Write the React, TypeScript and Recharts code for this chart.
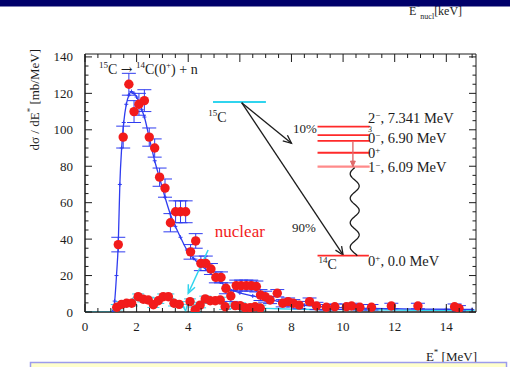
import React from 'react';
import {
  ComposedChart,
  Line,
  Scatter,
  XAxis,
  YAxis,
  ErrorBar,
  ReferenceLine,
  ReferenceDot,
  ReferenceArea,
} from 'recharts';

const SERIF = '"Liberation Serif", "Times New Roman", "DejaVu Serif", serif';
const INK = '#1c1c1c';
const RED = '#f21b1b';
const BLUE = '#2f3cf0';
const CYAN = '#30d4ee';

// ---- measured total cross section (E*, dσ/dE*, error)
const totalE = [
  1.29, 1.48, 1.7, 1.9, 2.09, 2.3, 2.49, 2.7, 2.89, 3.1, 3.31, 3.51, 3.7, 3.9, 4.09, 4.29, 4.49, 4.68,
  4.88, 5.07, 5.27, 5.46, 5.65, 5.86, 6.05, 6.25, 6.44, 6.64, 6.8, 6.98, 7.17, 7.45, 7.66, 7.87, 8.07,
  8.3, 8.7, 8.97, 9.35, 9.68, 10.13, 10.33, 10.65, 11.1, 11.87, 12.9, 14.32, 14.49,
];
const totalSigma = [
  37, 96, 125, 110, 114, 116, 96, 90, 74, 68, 49, 55, 55, 55, 33, 39, 26.7, 26.7,
  23.6, 19, 19, 13, 8.8, 14.5, 14.5, 14.5, 14.5, 14, 9.3, 8.4, 6.6, 10.3, 4.8, 5.7, 4.8,
  3.8, 5.7, 3.3, 2.6, 2.9, 2.9, 3.3, 2.6, 2.6, 3.3, 3.3, 2.9, 2.0,
];
const totalErr = [
  4, 6, 6, 6, 6, 6, 5, 5, 5, 5, 5, 6, 6, 6, 4, 4, 4, 4,
  3, 3, 3, 3, 3, 3, 3, 3, 3, 3, 3, 3, 2, 2, 2, 2, 2,
  2, 2, 2, 1.5, 1.5, 1.5, 1.5, 1.5, 1.5, 1.5, 1.5, 1.5, 1.5,
];

// ---- nuclear contribution
const nuclearE = [
  1.23, 1.42, 1.61, 1.81, 2.06, 2.26, 2.45, 2.65, 2.84, 3.03, 3.23, 3.45, 3.65, 4.07, 4.27, 4.46,
  4.66, 4.85, 5.05, 5.24, 5.43, 5.82, 6.01, 6.2, 6.4, 6.59, 6.79,
];
const nuclearSigma = [
  2.6, 4.2, 4.8, 4.8, 8.4, 7.0, 6.6, 4.0, 6.2, 8.4, 8.4, 4.8, 4.2, 5.7, 1.2, 3.8,
  7.2, 6.2, 6.2, 6.6, 2.9, 3.5, 3.5, 2.4, 2.4, 2.9, 2.2,
];
const nuclearErr = [
  1.5, 1.5, 1.5, 1.5, 1.5, 1.5, 1.5, 1.5, 1.5, 1.5, 1.5, 1.5, 1.5, 1.5, 1.5, 1.5,
  1.5, 1.5, 1.5, 1.5, 1.5, 1.5, 1.5, 1.5, 1.5, 1.5, 1.5,
];

// ---- fitted Coulomb-breakup curve
const fitE = [
  1.07, 1.15, 1.22, 1.29, 1.35, 1.42, 1.5, 1.6, 1.7, 1.8, 1.9, 2.0, 2.1, 2.2, 2.3, 2.5, 2.7, 2.9,
  3.1, 3.3, 3.5, 3.7, 3.95, 4.2, 4.5, 4.75, 5.0, 5.25, 5.5, 5.75, 6.0, 6.5, 7.0, 7.5, 8.0, 8.5,
  9.0, 10.0, 11.0, 12.0, 13.0, 14.0, 15.0,
];
const fitSigma = [
  0, 6, 20, 38, 70, 90, 104, 114, 119, 121, 120, 118, 115, 111, 107, 95, 83, 73,
  63, 54, 47, 41, 34, 29.5, 25.5, 22.7, 19.5, 16.5, 13.5, 11.8, 10.5, 8.8, 7.2, 5.8, 4.6, 3.7,
  3.1, 2.4, 2.0, 1.8, 1.6, 1.5, 1.4,
];

// ---- nuclear fit
const nucFitE = [
  0, 1.12, 1.15, 1.35, 1.55, 1.75, 1.95, 2.15, 2.35, 2.55, 2.75, 2.95, 3.15, 3.35, 3.55, 3.75, 3.9,
  4.0, 4.2, 4.4, 4.6, 4.8, 5.0, 5.2, 5.4, 5.6, 5.8, 6.2, 6.6, 7.0, 7.5, 8.0, 9.0, 10.0, 11.0, 12.0,
  13.0, 14.0, 15.1,
];
const nucFitSigma = [
  0, 0, 3.5, 4.5, 5.5, 6, 9, 9, 7.5, 6, 5.5, 7.5, 9.5, 8.5, 5.5, 4.5, 0.5,
  6, 2, 4.5, 7.5, 7, 6.5, 6.5, 3.5, 3, 3.5, 2.5, 2.2, 2, 1.8, 1.6, 1.4, 1.3, 1.2, 1.1,
  1, 1, 1,
];

const X_TICKS = [
  0, 0.5, 1, 1.5, 2, 2.5, 3, 3.5, 4, 4.5, 5, 5.5, 6, 6.5, 7, 7.5, 8, 8.5, 9, 9.5, 10, 10.5, 11,
  11.5, 12, 12.5, 13, 13.5, 14, 14.5, 15,
];
const Y_TICKS = [
  0, 5, 10, 15, 20, 25, 30, 35, 40, 45, 50, 55, 60, 65, 70, 75, 80, 85, 90, 95, 100, 105, 110, 115,
  120, 125, 130, 135, 140,
];

const zip3 = (xs: number[], ys: number[], es: number[]) =>
  xs.map((x, i) => ({ x, y: ys[i], err: es[i] }));
const zip2 = (xs: number[], ys: number[]) => xs.map((x, i) => ({ x, y: ys[i] }));

const totalData = zip3(totalE, totalSigma, totalErr);
const nuclearData = zip3(nuclearE, nuclearSigma, nuclearErr);
const fitData = zip2(fitE, fitSigma);
const nucFitData = zip2(nucFitE, nucFitSigma);

// ---- layout
const CHART_W = 510;
const CHART_H = 367;
const MARGIN = { top: 54, right: 34, bottom: 25, left: 0 };
const Y_AXIS_W = 85;
const X_AXIS_H = 30;
const PLOT_W = CHART_W - MARGIN.left - MARGIN.right - Y_AXIS_W;
const PLOT_H = CHART_H - MARGIN.top - MARGIN.bottom - X_AXIS_H;
const X_MAX = 15.15;
const Y_MAX = 141.6;

const serifStyle = { fontFamily: SERIF };
const symbolStyle = { fontFamily: '"DejaVu Serif", "DejaVu Sans", serif' };

// rich text: [text, 'sup' | 'sub' | 'sym' | undefined]
type Seg = [string, ('sup' | 'sub' | 'sym')?];
const rich = (segs: Seg[], size: number, small: number, shift: number) => {
  let level = 0;
  return segs.map(([t, kind], i) => {
    const target = kind === 'sup' ? -shift : kind === 'sub' ? shift * 0.7 : 0;
    const dy = target - level;
    level = target;
    const isSmall = kind === 'sup' || kind === 'sub';
    return (
      <tspan
        key={i}
        dy={dy}
        fontSize={isSmall ? small : size}
        style={kind === 'sym' ? symbolStyle : undefined}
      >
        {t}
      </tspan>
    );
  });
};

const XTick = (props: any) => {
  const { x, y, payload } = props;
  const v = payload.value as number;
  const major = Math.abs(v % 2) < 1e-9;
  const len = major ? 8 : 4;
  return (
    <g>
      <line x1={x} y1={y} x2={x} y2={y - len} stroke={INK} />
      <line x1={x} y1={y - PLOT_H} x2={x} y2={y - PLOT_H + len} stroke={INK} />
      {major && (
        <text x={x} y={y + 19} textAnchor="middle" style={serifStyle} fontSize={13} fill={INK}>
          {v}
        </text>
      )}
    </g>
  );
};

const YTick = (props: any) => {
  const { x, y, payload } = props;
  const v = payload.value as number;
  const major = Math.abs(v % 20) < 1e-9;
  const len = major ? 7 : 3.5;
  return (
    <g>
      <line x1={x} y1={y} x2={x + len} y2={y} stroke={INK} />
      <line x1={x + PLOT_W} y1={y} x2={x + PLOT_W - len} y2={y} stroke={INK} />
      {major && (
        <text x={x - 12} y={y + 4.5} textAnchor="end" style={serifStyle} fontSize={13} fill={INK}>
          {v}
        </text>
      )}
    </g>
  );
};

const redDot = (p: any) => <circle cx={p.cx} cy={p.cy} r={4.7} fill={RED} />;

const fitMark = (p: any) => (
  <path
    key={`fm-${p.index}`}
    d={`M${p.cx - 2},${p.cy}h4M${p.cx},${p.cy - 2}v4`}
    stroke={BLUE}
    strokeWidth={1}
    fill="none"
  />
);

// straight arrow with open or filled head at the second end point
const arrowShape =
  (color: string, width: number, head: number, filled: boolean) => (p: any) => {
    const { x1, y1, x2, y2 } = p;
    const a = Math.atan2(y2 - y1, x2 - x1);
    const s = 0.42;
    const hx1 = x2 - head * Math.cos(a - s);
    const hy1 = y2 - head * Math.sin(a - s);
    const hx2 = x2 - head * Math.cos(a + s);
    const hy2 = y2 - head * Math.sin(a + s);
    return (
      <g>
        <line x1={x1} y1={y1} x2={x2} y2={y2} stroke={color} strokeWidth={width} />
        {filled ? (
          <polygon points={`${hx1},${hy1} ${x2},${y2} ${hx2},${hy2}`} fill={color} stroke={color} />
        ) : (
          <polyline
            points={`${hx1},${hy1} ${x2},${y2} ${hx2},${hy2}`}
            fill="none"
            stroke={color}
            strokeWidth={width}
          />
        )}
      </g>
    );
  };

// gamma transition drawn as a wiggly line
const wavyShape = (p: any) => {
  const { x1, y1, x2, y2 } = p;
  const len = Math.hypot(x2 - x1, y2 - y1);
  const ux = (x2 - x1) / len;
  const uy = (y2 - y1) / len;
  const steps = 80;
  const waves = 3.6;
  const amp = 4.5;
  let d = '';
  for (let i = 0; i <= steps; i++) {
    const t = i / steps;
    const off = amp * Math.sin(t * waves * 2 * Math.PI);
    const px = x1 + ux * len * t - uy * off;
    const py = y1 + uy * len * t + ux * off;
    d += `${i ? 'L' : 'M'}${px.toFixed(2)},${py.toFixed(2)}`;
  }
  return <path d={d} fill="none" stroke={INK} strokeWidth={1.3} />;
};

const plainLine = (color: string, width: number) => (p: any) =>
  <line x1={p.x1} y1={p.y1} x2={p.x2} y2={p.y2} stroke={color} strokeWidth={width} />;

const note = (
  id: string,
  x: number,
  y: number,
  segs: Seg[],
  opts: { size?: number; anchor?: string; color?: string; shift?: number } = {},
) => {
  const size = opts.size ?? 13;
  return (
    <ReferenceDot
      key={id}
      x={x}
      y={y}
      r={0}
      fill="none"
      stroke="none"
      ifOverflow="visible"
      shape={(p: any) => (
        <text
          x={p.cx}
          y={p.cy}
          textAnchor={opts.anchor ?? 'start'}
          style={serifStyle}
          fontSize={size}
          fill={opts.color ?? INK}
        >
          {rich(segs, size, Math.round(size * 0.62), opts.shift ?? size * 0.42)}
        </text>
      )}
    />
  );
};

// 14C excited levels (in plot units) and the decay scheme
const LEVEL_X = [9.01, 11.03];
const LEVEL_Y = [101.7, 97.1, 93.9, 87.4];
const LEVEL_1M_Y = 79.8;
const GROUND_Y = 30.9;
const PARENT_Y = 115.3;

export default function App() {
  return (
    <div
      style={{
        position: 'fixed',
        left: 0,
        top: 0,
        width: CHART_W,
        height: CHART_H,
        background: '#ffffff',
        overflow: 'hidden',
      }}
    >
      <div style={{ position: 'absolute', left: 0, top: 0 }}>
        <ComposedChart width={CHART_W} height={CHART_H} margin={MARGIN}>
          <XAxis
            dataKey="x"
            type="number"
            domain={[0, X_MAX]}
            ticks={X_TICKS}
            interval={0}
            allowDataOverflow
            height={X_AXIS_H}
            tickLine={false}
            tickSize={0}
            tickMargin={0}
            tick={XTick}
            axisLine={{ stroke: INK }}
          />
          <YAxis
            dataKey="y"
            type="number"
            domain={[0, Y_MAX]}
            ticks={Y_TICKS}
            interval={0}
            allowDataOverflow
            width={Y_AXIS_W}
            tickLine={false}
            tickSize={0}
            tickMargin={0}
            tick={YTick}
            axisLine={{ stroke: INK }}
          />

          <Line
            data={nucFitData}
            dataKey="y"
            type="linear"
            stroke={CYAN}
            strokeWidth={1.4}
            dot={false}
            isAnimationActive={false}
          />
          <Line
            data={fitData}
            dataKey="y"
            type="monotone"
            stroke={BLUE}
            strokeWidth={1.3}
            dot={fitMark}
            isAnimationActive={false}
          />

          <Scatter data={nuclearData} shape={redDot} isAnimationActive={false}>
            <ErrorBar dataKey="err" direction="y" width={6} stroke={CYAN} strokeWidth={1} />
          </Scatter>
          <Scatter data={totalData} shape={redDot} isAnimationActive={false}>
            <ErrorBar dataKey="err" direction="y" width={7} stroke={BLUE} strokeWidth={1} />
          </Scatter>

          {/* decay scheme */}
          <ReferenceLine
            segment={[{ x: 4.96, y: PARENT_Y }, { x: 7.01, y: PARENT_Y }]}
            shape={plainLine(CYAN, 2)}
          />
          <ReferenceLine
            segment={[{ x: 6.07, y: 114.9 }, { x: 8.0, y: 92.6 }]}
            shape={arrowShape(INK, 1.3, 9, false)}
          />
          <ReferenceLine
            segment={[{ x: 6.07, y: 114.9 }, { x: 10.0, y: 31.3 }]}
            shape={arrowShape(INK, 1.3, 9, false)}
          />
          {LEVEL_Y.map((ly, i) => (
            <ReferenceLine
              key={`lvl-${i}`}
              segment={[{ x: LEVEL_X[0], y: ly }, { x: LEVEL_X[1], y: ly }]}
              shape={plainLine('#ff2a2a', 1.8)}
            />
          ))}
          <ReferenceLine
            segment={[{ x: LEVEL_X[0], y: LEVEL_1M_Y }, { x: LEVEL_X[1], y: LEVEL_1M_Y }]}
            shape={plainLine('#ff8a8a', 2.4)}
          />
          <ReferenceLine
            segment={[{ x: LEVEL_X[0], y: GROUND_Y }, { x: 11.0, y: GROUND_Y }]}
            shape={plainLine('#ff2a2a', 1.8)}
          />
          <ReferenceLine
            segment={[{ x: 10.38, y: 93.9 }, { x: 10.38, y: LEVEL_1M_Y }]}
            shape={arrowShape('#e06a6a', 1.4, 6, true)}
          />
          <ReferenceLine
            segment={[{ x: 10.45, y: 79.2 }, { x: 10.45, y: GROUND_Y }]}
            shape={wavyShape}
          />
          <ReferenceLine
            segment={[{ x: 4.77, y: 34.0 }, { x: 4.0, y: 10.3 }]}
            shape={arrowShape(CYAN, 1.5, 9, false)}
          />

          {note(
            'title',
            0.54,
            130.5,
            [['15', 'sup'], ['C '], ['\u2192', 'sym'], [' '], ['14', 'sup'], ['C(0'], ['+', 'sup'], [') + n']],
            { size: 14 },
          )}
          {note('c15', 4.78, 104.3, [['15', 'sup'], ['C']], { size: 14 })}
          {note('p10', 8.52, 98.3, [['10%']], { size: 13, anchor: 'middle' })}
          {note('p90', 8.48, 43.9, [['90%']], { size: 13, anchor: 'middle' })}
          {note('c14', 9.05, 23.6, [['14', 'sup'], ['C']], { size: 14 })}
          {note('g0', 10.97, 25.3, [['0'], ['+', 'sup'], [', 0.0 MeV']], { size: 14.5, shift: 5 })}
          {note('l734', 10.97, 104.0, [['2'], ['\u2212', 'sup'], [', 7.341 MeV']], { size: 14.5, shift: 5 })}
          {note('l3m', 10.97, 99.0, [['3']], { size: 8 })}
          {note('l690', 10.97, 92.8, [['0'], ['\u2212', 'sup'], [', 6.90 MeV']], { size: 14.5, shift: 5 })}
          {note('l0p', 10.97, 84.4, [['0'], ['+', 'sup']], { size: 14.5, shift: 5 })}
          {note('l609', 10.97, 76.7, [['1'], ['\u2212', 'sup'], [', 6.09 MeV']], { size: 14.5, shift: 4 })}
          {note('nuc', 5.03, 41.2, [['nuclear']], { size: 17, color: RED })}

          <ReferenceArea
            x1={0}
            x2={X_MAX}
            y1={0}
            y2={Y_MAX}
            fill="none"
            fillOpacity={0}
            stroke={INK}
            strokeWidth={1}
            ifOverflow="visible"
          />
        </ComposedChart>
      </div>

      <svg
        width={CHART_W}
        height={CHART_H}
        style={{ position: 'absolute', left: 0, top: 0, pointerEvents: 'none' }}
      >
        <text x={409} y={15} style={serifStyle} fontSize={12} fill={INK}>
          {rich([['E'], ['*', 'sup'], ['nucl', 'sub'], ['[keV]']], 12, 8, 5)}
        </text>
        <rect x={0} y={0} width={CHART_W} height={6.5} fill="#00006a" />

        <text
          transform="translate(39,49) rotate(-90)"
          textAnchor="end"
          style={serifStyle}
          fontSize={13}
          fill={INK}
        >
          {rich([['d\u03c3 / dE'], ['*', 'sup'], [' [mb/MeV]']], 13, 9, 6)}
        </text>

        <text x={477} y={361} textAnchor="end" style={serifStyle} fontSize={13} fill={INK}>
          {rich([['E'], ['*', 'sup'], [' [MeV]']], 13, 9, 6)}
        </text>

        <rect x={30.5} y={362.5} width={476} height={20} fill="#ffffcc" stroke="#9c9cec" strokeWidth={1.5} />
      </svg>
    </div>
  );
}
